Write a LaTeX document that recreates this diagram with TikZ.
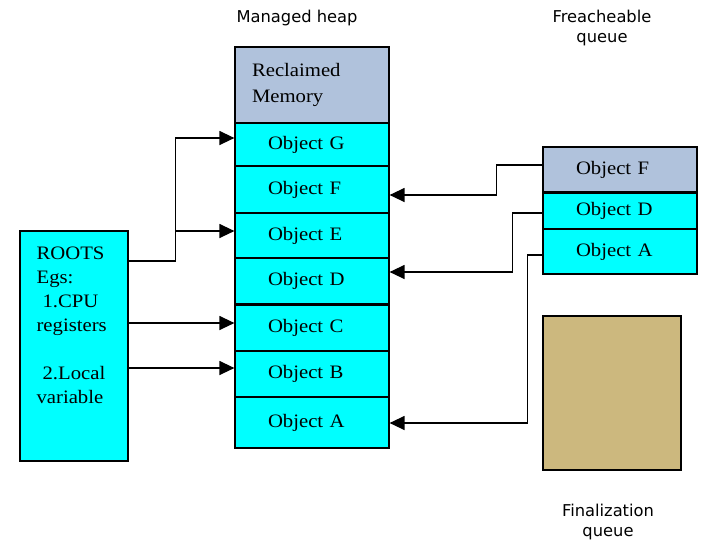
\documentclass[tikz,border=0pt]{standalone}
\usepackage{fontspec}
\newfontfamily\serifobj[FakeStretch=1.09]{Liberation Serif}
\newfontfamily\sanslbl{DejaVu Sans}
\usetikzlibrary{arrows.meta,calc}
\definecolor{objcyan}{HTML}{00FFFF}
\definecolor{reclaim}{HTML}{B0C2DC}
\definecolor{tanbox}{HTML}{CCB87E}
\begin{document}
\begin{tikzpicture}[x=1pt,y=-1pt,
  cell/.style={draw=black,line width=1.2pt,fill=objcyan,minimum width=154pt,
    inner xsep=33pt,text width=88pt,align=left,inner ysep=0pt,
    font=\serifobj\fontsize{19}{26}\selectfont},
  arr/.style={draw=black,line width=1.3pt,-{Triangle[length=15pt,width=14pt]}},
  lbl/.style={font=\sanslbl\fontsize{16.3}{20}\selectfont,align=center,inner sep=0pt}]
\useasboundingbox (0,0) rectangle (702,539);

% labels
\node[lbl] (mh) at (297,18) {Managed heap};
\node[lbl] (fq) at (602,28) {Freacheable\\queue};
\node[lbl] (fnq) at (608,522) {Finalization\\queue};

% managed heap
\node[cell,fill=reclaim,minimum height=76pt,inner xsep=17pt,text width=120pt] (rec) at (312,85) {Reclaimed\\Memory};
\node[cell,minimum height=43pt] (hG) at (312,144.5) {Object G};
\node[cell,minimum height=47pt] (hF) at (312,189.5) {Object F};
\node[cell,minimum height=45pt] (hE) at (312,235.5) {Object E};
\node[cell,minimum height=46pt] (hD) at (312,281) {Object D};
\node[cell,minimum height=47pt] (hC) at (312,327.5) {Object C};
\node[cell,minimum height=46pt] (hB) at (312,374) {Object B};
\node[cell,minimum height=51pt] (hA) at (312,422.5) {Object A};
\draw[line width=2.6pt] (hD.south west) -- (hD.south east);

% freachable queue
\node[cell,fill=reclaim,minimum height=45pt] (fF) at (620,169.5) {Object F};
\node[cell,minimum height=37pt] (fD) at (620,210.5) {Object D};
\node[cell,minimum height=45pt] (fA) at (620,251.5) {Object A};
\draw[line width=2.6pt] (fF.south west) -- (fF.south east);

% finalization queue
\node[draw=black,line width=1.5pt,fill=tanbox,minimum width=138pt,minimum height=154pt] (fin) at (612,393) {};

% roots
\node[draw=black,line width=1.2pt,fill=objcyan,minimum width=108pt,minimum height=230pt] (roots) at (74,346) {};
\node[anchor=north west,inner sep=0pt,align=left,font=\serifobj\fontsize{19}{24}\selectfont] (rtxt)
  at ($(roots.north west)+(17,16)$) {ROOTS\\Egs:\\\hspace*{6pt}1.CPU\\registers\\[24pt]\hspace*{6pt}2.Local\\variable};

% connectors from roots
\coordinate (r1) at ($(roots.east)+(0,-85)$);
\coordinate (j1) at ($(r1)+(47,0)$);
\coordinate (tG) at ($(hG.west)+(0,-6.5)$);
\coordinate (tE) at ($(hE.west)+(0,-4.5)$);
\coordinate (tC) at ($(hC.west)+(0,-4.5)$);
\coordinate (tB) at ($(hB.west)+(0,-6)$);
\draw[arr] (r1) -- (j1) |- (tG);
\draw[arr] (j1 |- tE) -- (tE);
\draw[arr] (roots.east |- tC) -- (tC);
\draw[arr] (roots.east |- tB) -- (tB);

% connectors from freachable queue
\coordinate (sF) at ($(fF.west)+(0,-4.5)$);
\coordinate (sD) at ($(fD.west)+(0,2.5)$);
\coordinate (sA) at ($(fA.west)+(0,3.5)$);
\coordinate (eF) at ($(hF.east)+(0,5.5)$);
\coordinate (eD) at ($(hD.east)+(0,-9)$);
\coordinate (eA) at ($(hA.east)+(0,0.5)$);
\draw[arr] (sF) -- ++(-46,0) |- (eF);
\draw[arr] (sD) -- ++(-30,0) |- (eD);
\draw[arr] (sA) -- ++(-15,0) |- (eA);
\end{tikzpicture}
\end{document}
